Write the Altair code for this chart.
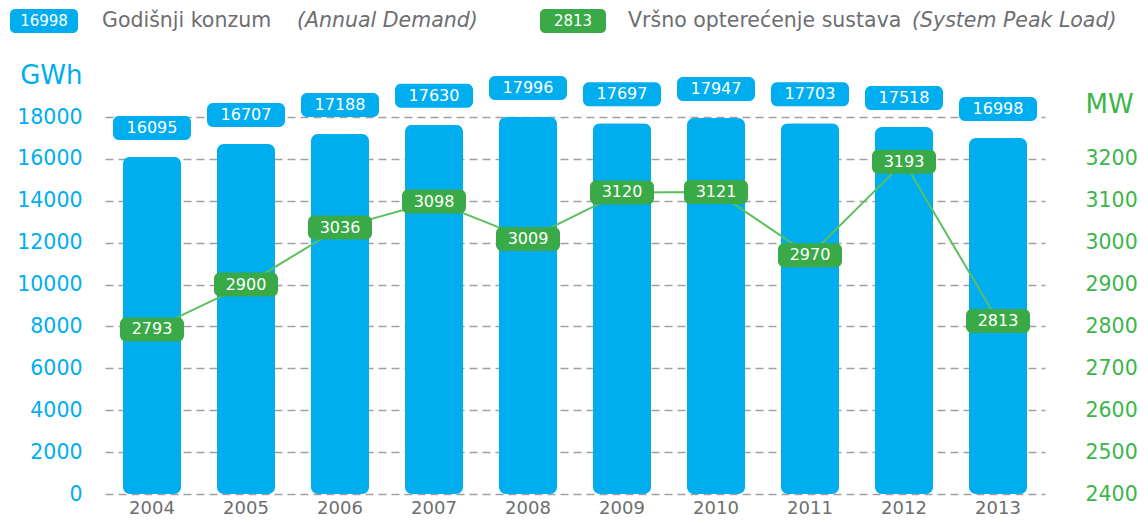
import altair as alt
import pandas as pd

years = ["2004", "2005", "2006", "2007", "2008", "2009", "2010", "2011", "2012", "2013"]
demand = [16095, 16707, 17188, 17630, 17996, 17697, 17947, 17703, 17518, 16998]
peak = [2793, 2900, 3036, 3098, 3009, 3120, 3121, 2970, 3193, 2813]
left_ticks = [0, 2000, 4000, 6000, 8000, 10000, 12000, 14000, 16000, 18000]
right_ticks = [2400, 2500, 2600, 2700, 2800, 2900, 3000, 3100, 3200]
legend_demand = "Godišnji konzum"
legend_demand_en = "(Annual Demand)"
legend_peak = "Vršno opterećenje sustava"
legend_peak_en = "(System Peak Load)"

df = pd.DataFrame({"year": years, "demand": demand, "peak": peak})

BLUE = "#00AEEF"
GREEN = "#3AAA48"
LABELG = "#3DB54A"
LINEG = "#5CBF5E"
GREY = "#6D6E71"
FONT = "DejaVu Sans"

x = alt.X("year:N", sort=years,
          scale=alt.Scale(paddingInner=0.38, paddingOuter=0.19),
          axis=alt.Axis(title=None, labelAngle=0, labelColor=GREY, labelFontSize=18,
                        labelFont=FONT, domain=False, ticks=False, labelPadding=5, grid=False))

left_scale = alt.Scale(domain=[0, 18000], nice=False)
right_scale = alt.Scale(domain=[2400, 3300], nice=False, zero=False)

left_axis = alt.Axis(title="GWh", values=left_ticks, format="d", grid=True,
                     gridDash=[8, 5], gridColor="#A0A0A0", gridWidth=1.5,
                     domain=False, ticks=False, labelColor=BLUE, labelFontSize=20.5,
                     labelFont=FONT, labelPadding=23, titleAngle=0, titleX=-23,
                     titleY=-42, titleAlign="right", titleBaseline="middle",
                     titleColor=BLUE, titleFontSize=26, titleFont=FONT,
                     titleFontWeight="normal")

right_axis = alt.Axis(orient="right", title="MW", values=right_ticks, format="d",
                      grid=False, domain=False, ticks=False, labelColor=LABELG,
                      labelFontSize=20.5, labelFont=FONT, labelPadding=40,
                      labelAlign="left", titleAngle=0, titleX=40, titleY=-13,
                      titleAlign="left", titleBaseline="middle", titleColor=LABELG,
                      titleFontSize=26, titleFont=FONT, titleFontWeight="normal")

yL = alt.Y("demand:Q", scale=left_scale, axis=left_axis)
yR = alt.Y("peak:Q", scale=right_scale, axis=right_axis)

base = alt.Chart(df)

bars = base.mark_bar(color=BLUE, width=58, cornerRadius=7).encode(x=x, y=yL)
barbox = base.mark_rect(color=BLUE, width=78, cornerRadius=6, yOffset=-41, y2Offset=-17).encode(
    x=x, y=yL, y2="demand:Q")
bartext = base.mark_text(color="white", fontSize=16, font=FONT, dy=-29, baseline="middle").encode(
    x=x, y=yL, text=alt.Text("demand:Q", format="d"))

left_layer = alt.layer(bars, barbox, bartext)

line = base.mark_line(color=LINEG, strokeWidth=2).encode(x=x, y=yR)
greenbox = base.mark_rect(color=GREEN, width=64, cornerRadius=6, yOffset=-12, y2Offset=12).encode(
    x=x, y=yR, y2="peak:Q")
greentext = base.mark_text(color="white", fontSize=16, font=FONT, baseline="middle").encode(
    x=x, y=yR, text=alt.Text("peak:Q", format="d"))

right_layer = alt.layer(line, greenbox, greentext)

leg_df = pd.DataFrame({"d": [demand[-1]], "p": [peak[-1]]})
leg = alt.Chart(leg_df)
LFS = 20.5
lb1 = leg.mark_rect(color=BLUE, cornerRadius=5).encode(
    x=alt.value(-95), x2=alt.value(-27), y=alt.value(-108), y2=alt.value(-84))
lt1 = leg.mark_text(color="white", fontSize=15, font=FONT, baseline="middle").encode(
    x=alt.value(-61), y=alt.value(-96), text=alt.Text("d:Q", format="d"))
ln1 = leg.mark_text(color=GREY, fontSize=LFS, font=FONT, baseline="middle", align="left").encode(
    x=alt.value(-3), y=alt.value(-96), text=alt.value(legend_demand))
ln1e = leg.mark_text(color=GREY, fontSize=LFS, font=FONT, fontStyle="italic", baseline="middle", align="left").encode(
    x=alt.value(192), y=alt.value(-96), text=alt.value(legend_demand_en))
lb2 = leg.mark_rect(color=GREEN, cornerRadius=5).encode(
    x=alt.value(435), x2=alt.value(501), y=alt.value(-108), y2=alt.value(-84))
lt2 = leg.mark_text(color="white", fontSize=15, font=FONT, baseline="middle").encode(
    x=alt.value(468), y=alt.value(-96), text=alt.Text("p:Q", format="d"))
ln2 = leg.mark_text(color=GREY, fontSize=LFS, font=FONT, baseline="middle", align="left").encode(
    x=alt.value(523), y=alt.value(-96), text=alt.value(legend_peak))
ln2e = leg.mark_text(color=GREY, fontSize=LFS, font=FONT, fontStyle="italic", baseline="middle", align="left").encode(
    x=alt.value(807), y=alt.value(-96), text=alt.value(legend_peak_en))

legend_layer = alt.layer(lb1, lt1, ln1, ln1e, lb2, lt2, ln2, ln2e)

chart = alt.layer(left_layer, right_layer, legend_layer).resolve_scale(y="independent").properties(
    width=940, height=377,
    autosize=alt.AutoSizeParams(type="none"),
    padding={"left": 97, "top": 109, "right": 95, "bottom": 23},
).configure_view(stroke=None)

chart.save("out.html", embed_options={"renderer": "svg", "actions": False})
